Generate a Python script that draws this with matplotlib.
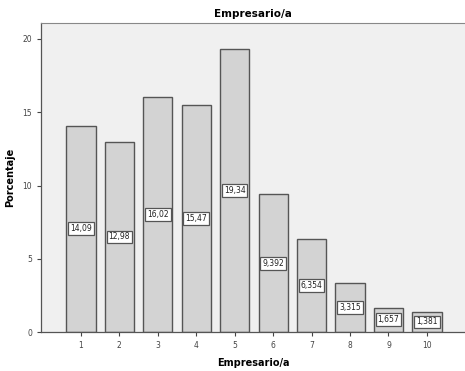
import matplotlib
matplotlib.use("Agg")
import matplotlib.pyplot as plt

categories = ["1", "2", "3", "4", "5", "6", "7", "8", "9", "10"]
values = [14.09, 12.98, 16.02, 15.47, 19.34, 9.392, 6.354, 3.315, 1.657, 1.381]
labels = ["14,09", "12,98", "16,02", "15,47", "19,34", "9,392", "6,354", "3,315", "1,657", "1,381"]
yticks = [0, 5, 10, 15, 20]

fig = plt.figure(figsize=(4.65, 3.71), dpi=100)
ax = fig.add_axes([0.088, 0.105, 0.912, 0.833])
ax.set_facecolor("#F0F0F0")

x = list(range(1, len(categories) + 1))
ax.bar(x, values, width=0.76, color="#D3D3D3", edgecolor="#555555", linewidth=1.0, zorder=2)

for xi, v, lab in zip(x, values, labels):
    ax.text(xi, v / 2, lab, ha="center", va="center", fontsize=5.5, color="#222222", zorder=3,
            bbox=dict(boxstyle="square,pad=0.25", facecolor="white", edgecolor="#555555", linewidth=0.9))

ax.set_xlim(-0.04, 10.99)
ax.set_ylim(0, 21.09)
ax.set_xticks(x)
ax.set_xticklabels(categories)
ax.set_yticks(yticks)
ax.tick_params(axis="both", labelsize=5.5, colors="#444444", length=3, width=0.8, direction="out")

for side in ["top", "right"]:
    ax.spines[side].set_visible(False)
for side in ["left", "bottom"]:
    ax.spines[side].set_color("#555555")
    ax.spines[side].set_linewidth(0.9)
ax.spines["top"].set_visible(True)
ax.spines["top"].set_color("#888888")
ax.spines["top"].set_linewidth(0.8)

ax.set_title("Empresario/a", fontsize=7.5, fontweight="bold", pad=4)
ax.set_xlabel("Empresario/a", fontsize=7, fontweight="bold", labelpad=6)
ax.set_ylabel("Porcentaje", fontsize=7, fontweight="bold", labelpad=5)

fig.savefig("out.png", dpi=100)
